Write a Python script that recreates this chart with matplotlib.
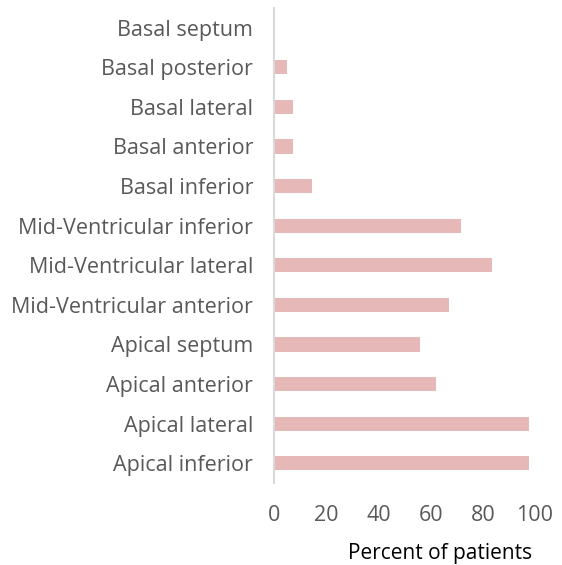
import numpy as np
import matplotlib.pyplot as plt

# segments listed bottom to top, as they appear on the chart
segments = ['Apical inferior', 'Apical lateral', 'Apical anterior', 'Apical septum',
            'Mid-Ventricular anterior', 'Mid-Ventricular lateral', 'Mid-Ventricular inferior',
            'Basal inferior', 'Basal anterior', 'Basal lateral', 'Basal posterior', 'Basal septum']
percent = [97.8, 97.8, 62, 56, 67, 83.5, 71.5, 14.5, 7.2, 7.2, 5, 0]

plt.rcParams['font.family'] = ['Open Sans', 'DejaVu Sans']

fig = plt.figure(figsize=(5.62, 5.65), dpi=100)
ax = fig.add_axes([0.4875, 0.145, 0.4645, 0.841])

y = np.arange(len(segments))
ax.barh(y, percent, height=0.36, color='#E6B8B7')

ax.set_xlim(0, 100)
ax.set_ylim(-0.5, len(segments) - 0.5)
ax.set_xticks([0, 20, 40, 60, 80, 100])
ax.set_yticks(y)
ax.set_yticklabels(segments)
ax.tick_params(axis='both', length=0, labelsize=15.5, colors='#595959')
ax.tick_params(axis='x', pad=16)
ax.tick_params(axis='y', pad=15)

for s in ['top', 'right', 'bottom']:
    ax.spines[s].set_visible(False)
ax.spines['left'].set_color('#D9D9D9')
ax.spines['left'].set_linewidth(1.5)
ax.spines['left'].set_zorder(3)

fig.text(440 / 562, 1 - 553 / 565, 'Percent of patients', fontsize=15,
         color='black', ha='center', va='center')

fig.savefig('out.png', dpi=100)
